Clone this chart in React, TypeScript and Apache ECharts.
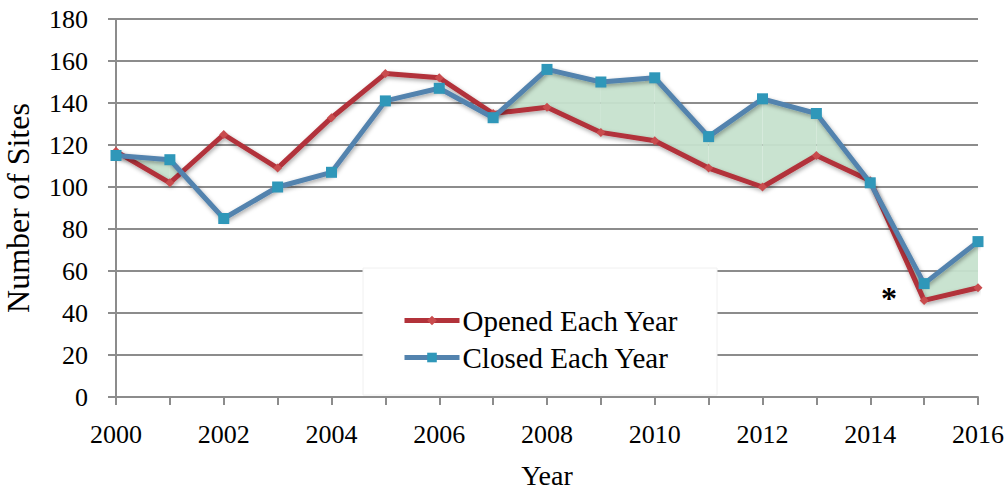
import React, { useEffect, useRef } from "react";
import * as echarts from "echarts";

const years = ["2000","2001","2002","2003","2004","2005","2006","2007","2008","2009","2010","2011","2012","2013","2014","2015","2016"];
const opened = [117, 102, 125, 109, 133, 154, 152, 135, 138, 126, 122, 109, 100, 115, 103, 46, 52];
const closed = [115, 113, 85, 100, 107, 141, 147, 133, 156, 150, 152, 124, 142, 135, 102, 54, 74];
const yMin = 0;
const yMax = 180;
const yStep = 20;

const FONT = '"Liberation Serif", "Times New Roman", serif';

export default function App() {
  const ref = useRef<HTMLDivElement>(null);
  useEffect(() => {
    if (!ref.current) return;
    const chart = echarts.init(ref.current, undefined, { renderer: "svg" });
    const shadow = {
      shadowColor: "rgba(0,0,0,0.35)",
      shadowBlur: 4,
      shadowOffsetX: 1,
      shadowOffsetY: 2,
    };
    chart.setOption({
      animation: false,
      backgroundColor: "#fff",
      grid: { left: 116, right: 29, top: 19, bottom: 93, outerBoundsMode: "none", containLabel: false },
      xAxis: {
        type: "category",
        data: years,
        boundaryGap: false,
        name: "Year",
        nameLocation: "middle",
        nameGap: 64,
        nameTextStyle: { fontFamily: FONT, fontSize: 28, color: "#000" },
        axisLine: { lineStyle: { color: "#8c8c8c", width: 2 } },
        axisTick: { show: true, interval: 0, length: 8, lineStyle: { color: "#8c8c8c", width: 2 } },
        axisLabel: { interval: 1, margin: 24, fontFamily: FONT, fontSize: 26, color: "#000" },
        splitLine: { show: false },
      },
      yAxis: {
        type: "value",
        min: yMin,
        max: yMax,
        interval: yStep,
        name: "Number of Sites",
        nameLocation: "middle",
        nameGap: 82,
        nameTextStyle: { fontFamily: FONT, fontSize: 32, color: "#000" },
        axisLine: { show: true, lineStyle: { color: "#8c8c8c", width: 2 } },
        axisTick: { show: true, length: 8, lineStyle: { color: "#8c8c8c", width: 2 } },
        axisLabel: { margin: 28, fontFamily: FONT, fontSize: 26, color: "#000" },
        splitLine: { show: true, lineStyle: { color: "#8c8c8c", width: 2 } },
      },
      legend: {
        orient: "vertical",
        left: 402,
        top: 306,
        padding: 0,
        itemWidth: 55,
        itemHeight: 12,
        itemGap: 8,
        lineStyle: { width: 5 },
        textStyle: { fontFamily: FONT, fontSize: 29, color: "#000", lineHeight: 24, padding: [0, 0, 0, -2] },
        data: ["Opened Each Year", "Closed Each Year"],
        z: 10,
      },
      graphic: [
        {
          type: "rect",
          shape: { x: 363, y: 268, width: 354, height: 127 },
          style: { fill: "#fff", stroke: "#f0f0f0", lineWidth: 1 },
          z: 1,
        },
        {
          type: "text",
          x: 889,
          y: 298,
          style: {
            text: "*",
            font: 'bold 32px "Liberation Serif"',
            fill: "#000",
            textAlign: "center",
            textVerticalAlign: "middle",
          },
          z: 5,
        },
      ],
      series: [
        {
          type: "custom",
          name: "fill",
          z: 1,
          data: years.slice(0, -1).map((_, i) => [i, 0]),
          renderItem: (params: any, api: any) => {
            const i = params.dataIndex;
            const o0 = opened[i], o1 = opened[i + 1], c0 = closed[i], c1 = closed[i + 1];
            const d0 = c0 - o0, d1 = c1 - o1;
            const po0 = api.coord([i, o0]);
            const po1 = api.coord([i + 1, o1]);
            const pc0 = api.coord([i, c0]);
            const pc1 = api.coord([i + 1, c1]);
            let pts: number[][] = [];
            if (d0 >= 0 && d1 >= 0) {
              pts = [po0, po1, pc1, pc0];
            } else if (d0 > 0 || d1 > 0) {
              const t = d0 / (d0 - d1);
              const cross = [po0[0] + t * (po1[0] - po0[0]), po0[1] + t * (po1[1] - po0[1])];
              pts = d0 > 0 ? [po0, cross, pc0] : [cross, po1, pc1];
            } else {
              return null;
            }
            return {
              type: "polygon",
              shape: { points: pts },
              style: { fill: "#c6e1cd", opacity: 0.95 },
            };
          },
          silent: true,
        },
        {
          type: "line",
          name: "Opened Each Year",
          data: opened,
          z: 3,
          symbol: "diamond",
          symbolSize: 9,
          lineStyle: { color: "#b2323a", width: 5, ...shadow },
          itemStyle: { color: "#c94c4e" },
        },
        {
          type: "line",
          name: "Closed Each Year",
          data: closed,
          z: 4,
          symbol: "rect",
          symbolSize: 11,
          lineStyle: { color: "#5383ae", width: 5, ...shadow },
          itemStyle: { color: "#2f97b9" },
        },
      ],
    });
    return () => chart.dispose();
  }, []);
  return (
    <div
      ref={ref}
      style={{ position: "fixed", left: 0, top: 0, width: 1007, height: 490 }}
    />
  );
}
